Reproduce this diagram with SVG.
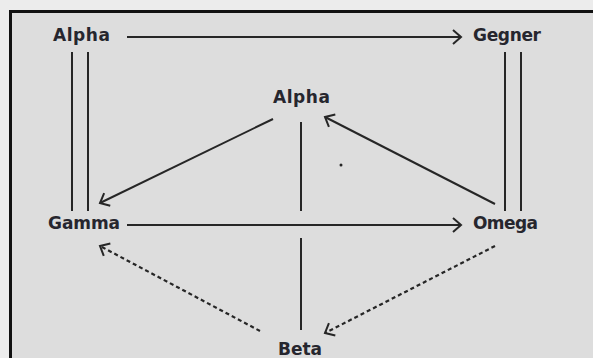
<svg xmlns="http://www.w3.org/2000/svg" width="593" height="358" viewBox="0 0 593 358">
  <style>
    .lbl { font-family: "DejaVu Sans", "Liberation Sans", sans-serif; font-weight: bold; font-size: 17px; fill: #26262e; }
    .edge { stroke: #262626; stroke-width: 2; fill: none; }
    .dash { stroke-dasharray: 4 3; stroke-width: 2.2; }
  </style>
  <defs>
    <marker id="head" markerUnits="userSpaceOnUse" viewBox="-10 -9 12 18" markerWidth="12" markerHeight="18" refX="0" refY="0" orient="auto">
      <path d="M-8,-7 L0,0 L-8,7" fill="none" stroke="#262626" stroke-width="2"/>
    </marker>
  </defs>

  <!-- page and frame -->
  <rect x="0" y="0" width="593" height="358" fill="#ececec"/>
  <rect x="10.5" y="11.5" width="600" height="360" fill="#dddddd" stroke="#111" stroke-width="3"/>

  <!-- connectors -->
  <g id="connectors">
    <!-- top: Alpha to Gegner -->
    <line class="edge" x1="127" y1="37" x2="461" y2="37" marker-end="url(#head)"/>
    <!-- equalities -->
    <line class="edge" x1="72" y1="52" x2="72" y2="211"/>
    <line class="edge" x1="88" y1="52" x2="88" y2="211"/>
    <line class="edge" x1="505" y1="52" x2="505" y2="211"/>
    <line class="edge" x1="521" y1="52" x2="521" y2="211"/>
    <!-- central Alpha down to Beta (broken at the crossing) -->
    <line class="edge" x1="301" y1="122" x2="301" y2="211"/>
    <line class="edge" x1="301" y1="238" x2="301" y2="330"/>
    <!-- central Alpha to Gamma -->
    <line class="edge" x1="273" y1="119" x2="100" y2="203" marker-end="url(#head)"/>
    <!-- Omega to central Alpha -->
    <line class="edge" x1="495" y1="204" x2="325" y2="117" marker-end="url(#head)"/>
    <!-- Gamma to Omega -->
    <line class="edge" x1="127" y1="225" x2="461" y2="225" marker-end="url(#head)"/>
    <!-- dashed: Beta to Gamma, Omega to Beta -->
    <line class="edge dash" x1="260" y1="331" x2="100" y2="246" marker-end="url(#head)"/>
    <line class="edge dash" x1="495" y1="246" x2="325" y2="333" marker-end="url(#head)"/>
  </g>

  <!-- stray dot -->
  <circle cx="341" cy="165" r="1.5" fill="#262626"/>

  <!-- nodes -->
  <g id="alpha-top"><text class="lbl" x="53" y="41" textLength="57">Alpha</text></g>
  <g id="gegner"><text class="lbl" x="473" y="41" textLength="68">Gegner</text></g>
  <g id="alpha-mid"><text class="lbl" x="273" y="103" textLength="57">Alpha</text></g>
  <g id="gamma"><text class="lbl" x="48" y="229" textLength="72">Gamma</text></g>
  <g id="omega"><text class="lbl" x="473" y="229" textLength="65">Omega</text></g>
  <g id="beta"><text class="lbl" x="278" y="355" textLength="44">Beta</text></g>
</svg>
